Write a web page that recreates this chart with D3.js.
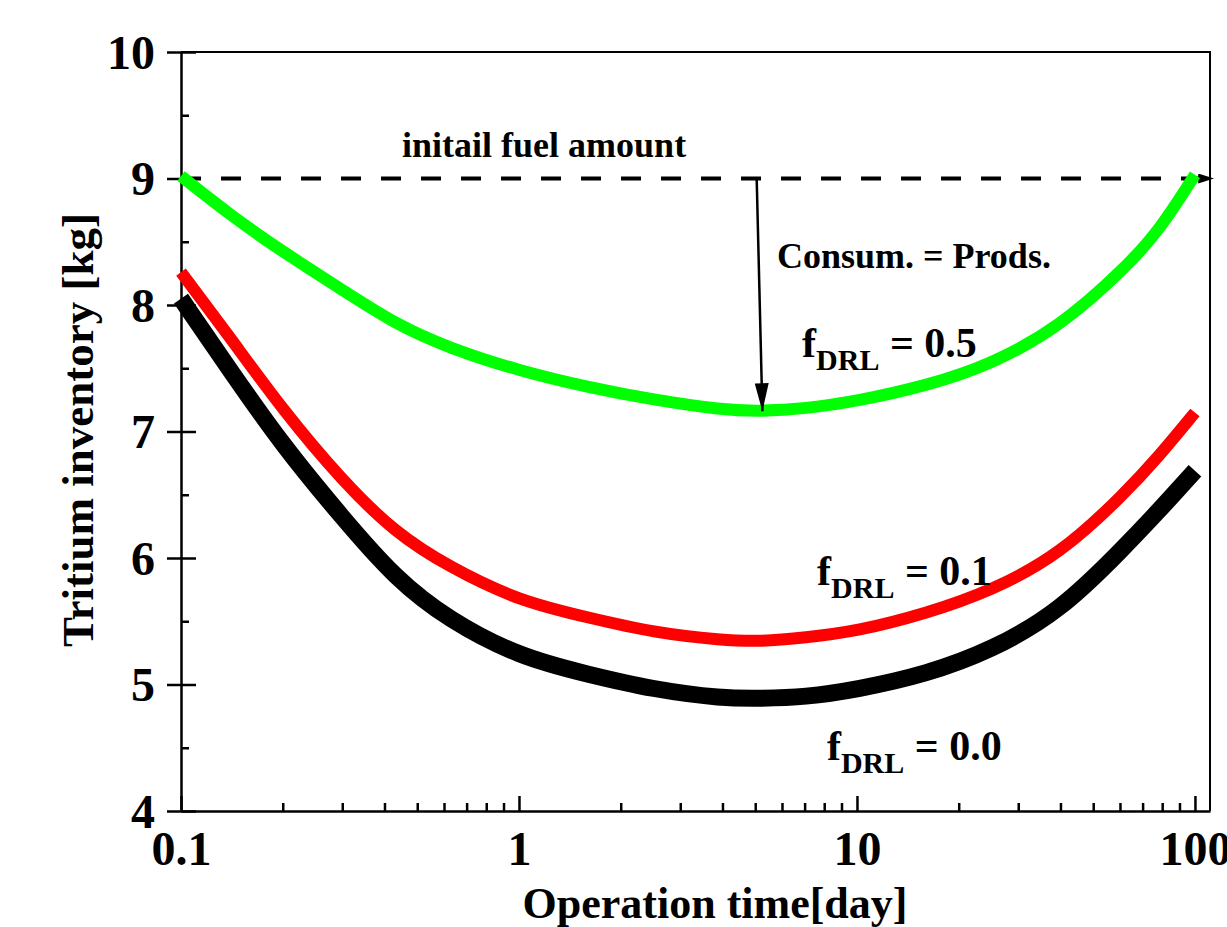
<!DOCTYPE html>
<html>
<head>
<meta charset="utf-8">
<script src="https://cdn.jsdelivr.net/npm/d3@7"></script>
<style>
  body { margin: 0; background: #fff; }
  svg { display: block; }
  text { font-family: "Liberation Serif", "Times New Roman", serif; font-weight: bold; fill: #000; }
</style>
</head>
<body>
<div id="chart"></div>
<script>
// operation time [day]
var times   = [0.1, 0.14, 0.2, 0.3, 0.43, 0.62, 1, 1.6, 2.5, 4, 5.2, 7, 10, 16, 25, 40, 62, 78, 100];
// tritium inventory [kg]
var fdrl05  = [9.02, 8.71, 8.42, 8.12, 7.85, 7.66, 7.48, 7.35, 7.25, 7.17, 7.16, 7.18, 7.24, 7.36, 7.53, 7.83, 8.29, 8.58, 9.03];
var fdrl01  = [8.26, 7.74, 7.17, 6.61, 6.20, 5.93, 5.66, 5.53, 5.41, 5.35, 5.34, 5.37, 5.42, 5.56, 5.74, 6.03, 6.51, 6.80, 7.15];
var fdrl00  = [8.05, 7.48, 6.89, 6.32, 5.84, 5.51, 5.22, 5.08, 4.96, 4.89, 4.89, 4.90, 4.96, 5.08, 5.27, 5.58, 6.09, 6.37, 6.69];
var seriesNames = ["0.0", "0.1", "0.5"];

var xTicks = [0.1, 1, 10, 100];
var xTickLabels = ["0.1", "1", "10", "100"];
var yTicks = [4, 5, 6, 7, 8, 9, 10];
var yTickLabels = ["4", "5", "6", "7", "8", "9", "10"];
var initialFuel = 9;

function drawChart() {
    var outerWidth = 1227, outerHeight = 927;
    var margin = {top: 52, right: 17, bottom: 116, left: 181};
    var plotLeft = margin.left,
        plotRight = outerWidth - margin.right,
        plotTop = margin.top,
        plotBottom = outerHeight - margin.bottom;

    var svg = d3.select("#chart").append("svg")
        .attr("width", outerWidth)
        .attr("height", outerHeight);

    var defs = svg.append("defs");
    defs.append("marker")
        .attr("id", "arrowR")
        .attr("viewBox", "0 0 16 10")
        .attr("refX", 16).attr("refY", 5)
        .attr("markerWidth", 16).attr("markerHeight", 10)
        .attr("markerUnits", "userSpaceOnUse")
        .attr("orient", "auto")
        .append("path").attr("d", "M0,0L16,5L0,10Z").attr("fill", "#000");
    defs.append("marker")
        .attr("id", "arrowD")
        .attr("viewBox", "0 0 28 14")
        .attr("refX", 28).attr("refY", 7)
        .attr("markerWidth", 28).attr("markerHeight", 14)
        .attr("markerUnits", "userSpaceOnUse")
        .attr("orient", "auto")
        .append("path").attr("d", "M0,0L28,7L0,14Z").attr("fill", "#000");

    var x = d3.scaleLog()
        .domain([0.1, 110.8])
        .range([plotLeft, plotRight]);

    var y = d3.scaleLinear()
        .domain([4, 10])
        .range([plotBottom, plotTop]);

    // frame top + right
    svg.append("path")
        .attr("d", "M" + plotLeft + "," + plotTop + "H" + plotRight + "V" + plotBottom)
        .attr("fill", "none").attr("stroke", "#000").attr("stroke-width", 2);

    // y axis: outward major ticks with labels
    var yAxis = d3.axisLeft(y)
        .tickValues(yTicks)
        .tickFormat(function(d, i) { return yTickLabels[i]; })
        .tickSizeInner(14).tickSizeOuter(0).tickPadding(12);
    var yg = svg.append("g").attr("transform", "translate(" + plotLeft + ",0)").call(yAxis);
    yg.select(".domain").attr("stroke-width", 2.5);
    yg.selectAll(".tick line").attr("stroke-width", 2.5);
    yg.selectAll("text").style("font-size", "48px").attr("dy", "0.34em");

    // inward major + minor y ticks
    var yIn = svg.append("g").attr("transform", "translate(" + plotLeft + ",0)")
        .call(d3.axisRight(y).tickValues(yTicks).tickSize(15).tickFormat(""));
    yIn.select(".domain").remove();
    yIn.selectAll(".tick line").attr("stroke-width", 2.5);
    var yMinor = svg.append("g").attr("transform", "translate(" + plotLeft + ",0)")
        .call(d3.axisRight(y).tickValues(d3.range(4.5, 10, 1)).tickSize(8).tickFormat(""));
    yMinor.select(".domain").remove();
    yMinor.selectAll(".tick line").attr("stroke-width", 2.5);

    // x axis: inward ticks
    var xAxis = d3.axisBottom(x)
        .tickValues(xTicks)
        .tickFormat(function(d, i) { return xTickLabels[i]; })
        .tickSizeInner(-15).tickSizeOuter(0).tickPadding(20);
    var xg = svg.append("g").attr("transform", "translate(0," + plotBottom + ")").call(xAxis);
    xg.select(".domain").attr("stroke-width", 2.5);
    xg.selectAll(".tick line").attr("stroke-width", 2.5);
    xg.selectAll("text").style("font-size", "48px");

    var xMinorVals = [];
    [0.1, 1, 10].forEach(function(dec) {
        for (var k = 2; k <= 9; k++) xMinorVals.push(dec * k);
    });
    var xMinor = svg.append("g").attr("transform", "translate(0," + plotBottom + ")")
        .call(d3.axisBottom(x).tickValues(xMinorVals).tickSize(-8).tickFormat(""));
    xMinor.select(".domain").remove();
    xMinor.selectAll(".tick line").attr("stroke-width", 2.5);

    // axis titles
    svg.append("text")
        .attr("x", 715).attr("y", 918)
        .attr("text-anchor", "middle")
        .style("font-size", "44px")
        .text("Operation time[day]");
    svg.append("text")
        .attr("transform", "translate(93,430) rotate(-90)")
        .attr("text-anchor", "middle")
        .style("font-size", "45px")
        .text("Tritium inventory [kg]");

    // initial fuel dashed line
    svg.append("line")
        .attr("x1", x(0.1)).attr("y1", y(initialFuel))
        .attr("x2", x(114)).attr("y2", y(initialFuel))
        .attr("stroke", "#000").attr("stroke-width", 4)
        .attr("stroke-dasharray", "20,20")
        .attr("marker-end", "url(#arrowR)");

    // curves (smoothed through the read-off points)
    var line = d3.line()
        .x(function(d) { return x(d[0]); })
        .y(function(d) { return y(d[1]); })
        .curve(d3.curveBasis);

    var series = [
        { name: seriesNames[0], values: fdrl00, color: "#000000", width: 17 },
        { name: seriesNames[1], values: fdrl01, color: "#ff0000", width: 12 },
        { name: seriesNames[2], values: fdrl05, color: "#00ff00", width: 12 }
    ];
    series.forEach(function(s) {
        svg.append("path")
            .attr("d", line(times.map(function(t, i) { return [t, s.values[i]]; })))
            .attr("fill", "none")
            .attr("stroke", s.color)
            .attr("stroke-width", s.width)
            .attr("stroke-linecap", "butt")
            .attr("stroke-linejoin", "round");
    });

    // vertical arrow: consumption = production
    svg.append("line")
        .attr("x1", x(5.05)).attr("y1", y(initialFuel))
        .attr("x2", x(5.25)).attr("y2", y(7.16))
        .attr("stroke", "#000").attr("stroke-width", 2.5)
        .attr("marker-end", "url(#arrowD)");

    // annotations
    svg.append("text")
        .attr("x", x(0.451)).attr("y", y(9.17))
        .style("font-size", "36px")
        .text("initail fuel amount");
    svg.append("text")
        .attr("x", x(5.8)).attr("y", y(8.29))
        .style("font-size", "36px")
        .text("Consum. = Prods.");

    var labelPos = { "0.5": [6.88, 7.59], "0.1": [7.62, 5.79], "0.0": [8.15, 4.40] };
    seriesNames.forEach(function(n) {
        var t = svg.append("text")
            .attr("x", x(labelPos[n][0])).attr("y", y(labelPos[n][1]))
            .style("font-size", "42px")
            .style("white-space", "pre");
        t.append("tspan").text("f");
        t.append("tspan").attr("dy", 13).style("font-size", "30px").text("DRL");
        t.append("tspan").attr("dy", -13).text(" = " + n);
    });
}

drawChart();
</script>
</body>
</html>
